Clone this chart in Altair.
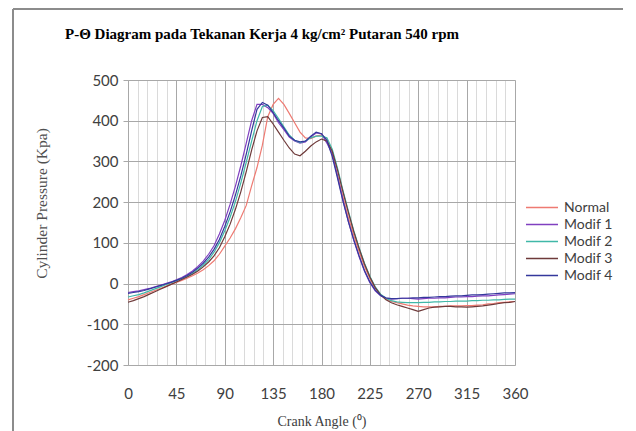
import altair as alt
import pandas as pd

angles = list(range(0, 361, 5))

normal = [-40, -36, -32, -27, -22, -17, -12, -7, -2, 3, 8, 13, 19, 26, 34, 44, 56, 72, 92, 112,
          135, 162, 192, 240, 285, 340, 410, 440, 455, 440, 418, 395, 372, 358, 356, 362, 365, 355,
          318, 265, 212, 162, 118, 78, 42, 12, -12, -28, -38, -44, -47, -50, -53, -55, -56, -57,
          -57, -57, -56, -56, -55, -55, -55, -54, -54, -53, -52, -50, -49, -47, -46, -45, -44]
modif1 = [-22, -20, -18, -15, -12, -8, -4, 0, 4, 9, 15, 22, 31, 42, 55, 72, 93, 122, 155, 195,
          240, 290, 345, 400, 440, 440, 432, 418, 395, 378, 360, 350, 345, 348, 360, 370, 368, 345,
          318, 262, 205, 152, 106, 66, 30, 2, -18, -30, -36, -38, -37, -36, -36, -37, -38, -37,
          -36, -36, -35, -35, -34, -33, -33, -32, -32, -31, -30, -30, -29, -28, -27, -26, -25]
modif2 = [-33, -30, -27, -23, -18, -13, -8, -3, 2, 7, 12, 18, 25, 34, 45, 59, 77, 100, 130, 163,
          202, 248, 298, 350, 400, 435, 438, 425, 405, 385, 365, 352, 346, 350, 358, 362, 362, 358,
          330, 282, 228, 178, 130, 88, 50, 18, -8, -26, -36, -42, -45, -46, -47, -47, -47, -46,
          -46, -45, -45, -44, -44, -43, -43, -43, -42, -42, -41, -41, -40, -40, -39, -38, -38]
modif3 = [-46, -42, -37, -32, -26, -20, -14, -8, -2, 4, 10, 16, 23, 31, 41, 53, 68, 88, 115, 146,
          183, 226, 275, 328, 375, 408, 410, 392, 372, 352, 333, 318, 314, 325, 338, 348, 355, 350,
          325, 278, 225, 175, 128, 86, 48, 16, -10, -28, -40, -47, -52, -56, -60, -64, -68, -64,
          -60, -58, -57, -56, -56, -57, -57, -58, -57, -56, -55, -53, -51, -49, -47, -46, -44]
modif4 = [-24, -22, -20, -17, -13, -9, -5, -1, 3, 8, 13, 20, 28, 38, 50, 65, 84, 108, 140, 176,
          218, 265, 318, 375, 428, 445, 438, 420, 400, 382, 362, 352, 348, 350, 362, 372, 368, 352,
          312, 258, 202, 152, 108, 68, 32, 4, -16, -29, -35, -37, -37, -36, -36, -35, -35, -34,
          -34, -33, -32, -32, -31, -30, -30, -29, -28, -28, -27, -26, -25, -24, -23, -23, -22]

series_names = ["Normal", "Modif 1", "Modif 2", "Modif 3", "Modif 4"]
series_values = [normal, modif1, modif2, modif3, modif4]
colors = ["#EE7A72", "#8040C0", "#40B8A8", "#6E3A3A", "#34389C"]

title_text = "P-Θ Diagram pada Tekanan Kerja 4 kg/cm² Putaran 540 rpm"
y_title = "Cylinder Pressure (Kpa)"
x_title = "Crank Angle (⁰)"

x_grid = sorted(set(list(range(0, 361, 9)) + [45 * k for k in range(9)]))
y_ticks = list(range(-200, 501, 100))

rows = []
for name, vals in zip(series_names, series_values):
    for a, v in zip(angles, vals):
        rows.append({"angle": a, "pressure": v, "series": name})
df = pd.DataFrame(rows)

W, H = 387, 285

lines = alt.Chart(df).mark_line(strokeWidth=1.2).encode(
    x=alt.X("angle:Q",
            scale=alt.Scale(domain=[0, 360], nice=False),
            axis=alt.Axis(values=x_grid, title=x_title,
                          labelExpr="datum.value % 45 === 0 ? datum.label : ''",
                          gridColor=alt.condition("datum.value % 45 === 0", alt.value("#A8A8A8"), alt.value("#DADADA")),
                          ticks=False, domain=False, labelPadding=21,
                          labelFont="Lato", labelFontSize=15, labelColor="#404040",
                          titleFont="Liberation Serif", titleFontSize=14, titleColor="#404040",
                          titleFontWeight="normal", titlePadding=13, labelFlush=False)),
    y=alt.Y("pressure:Q",
            scale=alt.Scale(domain=[-200, 500], nice=False),
            axis=alt.Axis(values=y_ticks, title=y_title,
                          labelExpr="'' + datum.value",
                          gridColor="#A8A8A8", tickColor="#A8A8A8", tickSize=5,
                          domainColor="#A8A8A8", labelPadding=5,
                          labelFont="Lato", labelFontSize=15, labelColor="#404040",
                          titleFont="Liberation Serif", titleFontSize=15.5, titleColor="#505050",
                          titleFontWeight="normal", titleX=-79, titleY=123)),
    color=alt.Color("series:N",
                    scale=alt.Scale(domain=series_names, range=colors),
                    legend=alt.Legend(title=None, orient="none", legendX=397, legendY=120,
                                      symbolType="stroke", symbolSize=1024, symbolStrokeWidth=1.5,
                                      labelFont="Lato", labelFontSize=14, labelColor="#404040",
                                      labelOffset=5, clipHeight=15, rowPadding=2)),
)

title_mark = alt.Chart(pd.DataFrame({"t": [title_text]})).mark_text(
    align="left", baseline="alphabetic", font="Liberation Serif", fontSize=15,
    fontWeight="bold", color="#000000").encode(
    text="t:N", x=alt.value(-63), y=alt.value(-41))

border_left = alt.Chart(pd.DataFrame({"k": [0]})).mark_rule(color="#8C8C8C", strokeWidth=2).encode(
    x=alt.value(-115), y=alt.value(-71), y2=alt.value(355))
border_top = alt.Chart(pd.DataFrame({"k": [0]})).mark_rule(color="#8C8C8C", strokeWidth=2).encode(
    x=alt.value(-115), x2=alt.value(495), y=alt.value(-71))

chart = alt.layer(lines, title_mark, border_left, border_top).properties(
    width=W, height=H,
    autosize=alt.AutoSizeParams(type="none"),
    padding={"left": 120, "top": 72, "right": 113, "bottom": 68},
).configure_view(stroke=None).configure(background="white")

chart.save("out.html", embed_options={"renderer": "svg", "actions": False})
